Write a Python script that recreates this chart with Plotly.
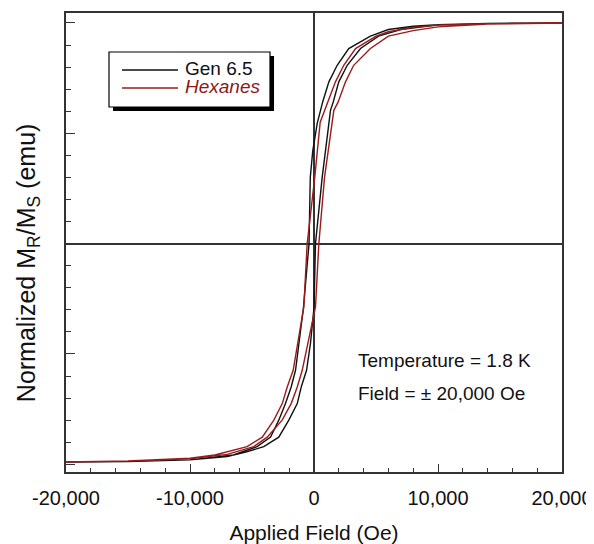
import plotly.graph_objects as go

# ---- data (H in Oe, M normalized) ----
gen_H_desc = [20000, 14000, 10000, 8000, 6000, 4550, 2800, 1870, 1200, 700, 260, -100, -300, -400,
              -850, -1490, -1840, -2300, -2840, -3500, -4590, -6500, -10000, -15000, -20000]
gen_M_desc = [1.0, 0.998, 0.992, 0.985, 0.97, 0.94, 0.884, 0.808, 0.733, 0.642, 0.545, 0.42, 0.30, 0.0,
              -0.29, -0.574, -0.65, -0.725, -0.80, -0.877, -0.92, -0.958, -0.98, -0.988, -0.99]
gen_H_asc = [-20000, -15000, -10000, -7000, -5500, -4050, -2840, -2030, -1350, -1030, -600, -280, 0,
             120, 660, 1330, 1550, 2000, 2680, 3750, 5200, 7000, 10000, 14000, 20000]
gen_M_asc = [-0.99, -0.988, -0.98, -0.965, -0.945, -0.92, -0.877, -0.80, -0.725, -0.65, -0.574, -0.45, -0.29,
             0.0, 0.30, 0.604, 0.642, 0.733, 0.808, 0.884, 0.94, 0.97, 0.992, 0.998, 1.0]

hex_H_desc = [20000, 14000, 10000, 8000, 6000, 5000, 3350, 2400, 1730, 1100, 500, 60, -550, -820,
              -1680, -2160, -2560, -3240, -4170, -5400, -8000, -10000, -15000, -20000]
hex_M_desc = [1.0, 0.997, 0.99, 0.98, 0.96, 0.94, 0.884, 0.808, 0.733, 0.642, 0.55, 0.30, 0.0, -0.287,
              -0.574, -0.65, -0.725, -0.80, -0.877, -0.92, -0.958, -0.972, -0.985, -0.99]
hex_H_asc = [-20000, -15000, -10000, -7000, -4860, -3770, -2570, -1840, -1350, -950, 120, 390, 850,
             1600, 1950, 2540, 3200, 4550, 6000, 8000, 10000, 14000, 20000]
hex_M_asc = [-0.99, -0.985, -0.975, -0.955, -0.92, -0.877, -0.80, -0.725, -0.65, -0.574, -0.287, 0.0, 0.30,
             0.604, 0.642, 0.733, 0.808, 0.884, 0.94, 0.965, 0.982, 0.995, 1.0]

series_names = ["Gen 6.5", "Hexanes"]
x_tickvals = [-20000, -10000, 0, 10000, 20000]
x_ticktext = ["-20,000", "-10,000", "0", "10,000", "20,000"]
y_tickvals = [-1, -0.5, 0, 0.5, 1]

BLACK = "#111111"
RED = "#9B1B1B"
RED_TXT = "#8B1A1A"
AX = "#333333"
FONT = "Liberation Sans, Arial, Helvetica, sans-serif"

fig = go.Figure()
fig.add_trace(go.Scatter(x=gen_H_desc + gen_H_asc, y=gen_M_desc + gen_M_asc, mode="lines",
                         name=series_names[0], showlegend=False, line=dict(color=BLACK, width=1.4)))
fig.add_trace(go.Scatter(x=hex_H_desc + hex_H_asc, y=hex_M_desc + hex_M_asc, mode="lines",
                         name=series_names[1], showlegend=False, line=dict(color=RED, width=1.4)))

# legend box (drawn by hand to match the reference's framed, shadowed key)
shapes = [
    dict(type="rect", xref="paper", yref="paper", x0=0.0948, x1=0.4194, y0=0.7865, y1=0.9063,
         fillcolor="black", line=dict(width=0), layer="above"),
    dict(type="rect", xref="paper", yref="paper", x0=0.0867, x1=0.4113, y0=0.7952, y1=0.9150,
         fillcolor="white", line=dict(color="black", width=1.2), layer="above"),
    dict(type="line", xref="paper", yref="paper", x0=0.1129, x1=0.2258, y0=0.8758, y1=0.8758,
         line=dict(color=BLACK, width=1.4), layer="above"),
    dict(type="line", xref="paper", yref="paper", x0=0.1129, x1=0.2258, y0=0.8366, y1=0.8366,
         line=dict(color=RED, width=1.4), layer="above"),
]

annotations = [
    dict(x=0.2359, y=0.878, xref="paper", yref="paper", text=series_names[0], showarrow=False,
         xanchor="left", yanchor="middle", font=dict(size=19, color="#111")),
    dict(x=0.2359, y=0.8388, xref="paper", yref="paper", text="<i>" + series_names[1] + "</i>",
         showarrow=False, xanchor="left", yanchor="middle", font=dict(size=19, color=RED_TXT)),
    dict(x=3350, y=-0.529, xref="x", yref="y", text="Temperature = 1.8 K", showarrow=False,
         xanchor="left", yanchor="middle", font=dict(size=19, color="#111")),
    dict(x=3350, y=-0.679, xref="x", yref="y", text="Field = ± 20,000 Oe", showarrow=False,
         xanchor="left", yanchor="middle", font=dict(size=19, color="#111")),
    dict(x=-0.0766, y=0.455, xref="paper", yref="paper",
         text="Normalized M<sub>R</sub>/M<sub>S</sub> (emu)", showarrow=False, textangle=-90,
         xanchor="center", yanchor="middle", font=dict(size=25, color="#111")),
]

fig.update_layout(
    width=586, height=536,
    margin=dict(l=58, r=32, t=5, b=72),
    paper_bgcolor="white", plot_bgcolor="white",
    font=dict(family=FONT, size=20, color="#111"),
    showlegend=False,
    shapes=shapes,
    annotations=annotations,
    xaxis=dict(range=[-20000, 20000], showline=True, linecolor=AX, linewidth=1.5, mirror=True,
               ticks="inside", tickvals=x_tickvals, ticktext=x_ticktext, ticklen=8, tickwidth=1.2,
               tickcolor=AX, minor=dict(dtick=2000, tick0=0, ticks="inside", ticklen=4, tickcolor=AX, tickwidth=1.2),
               showgrid=False, zeroline=True, zerolinecolor=AX, zerolinewidth=1.5,
               tickfont=dict(size=20), automargin=False, ticklabelstandoff=7,
               title=dict(text="Applied Field (Oe)", font=dict(size=21), standoff=20)),
    yaxis=dict(range=[-1.035, 1.045], showline=True, linecolor=AX, linewidth=1.5, mirror=True,
               ticks="inside", tickvals=y_tickvals, showticklabels=False, ticklen=9, tickwidth=1.2,
               tickcolor=AX, minor=dict(dtick=0.1, tick0=0, ticks="inside", ticklen=5, tickcolor=AX, tickwidth=1.2),
               showgrid=False, zeroline=True, zerolinecolor=AX, zerolinewidth=1.5, automargin=False),
)

fig.write_html("out.html")
